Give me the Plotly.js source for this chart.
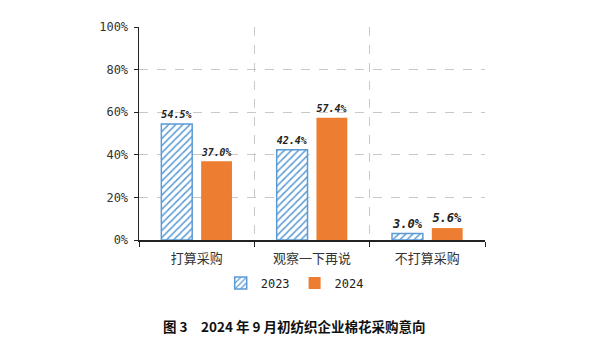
<!DOCTYPE html>
<html><head><meta charset="utf-8">
<script src="https://cdn.plot.ly/plotly-3.0.1.min.js"></script>
<style>body{margin:0;background:#fff}#c{width:596px;height:352px}</style>
</head><body><div id="c"></div>
<script>
const categories = ["打算采购", "观察一下再说", "不打算采购"];
const series2023 = [54.5, 42.4, 3.0];
const series2024 = [37.0, 57.4, 5.6];
const yTicks = [0, 20, 40, 60, 80, 100];
const yTickLabels = ["0%", "20%", "40%", "60%", "80%", "100%"];
const caption = "图 3　2024 年 9 月初纺织企业棉花采购意向";

const mono = "DejaVu Sans Mono, Liberation Mono, monospace";
const labelFont = {family: mono, size: 12, color: "#222", weight: "bold", style: "italic"};

const traces = [
  {type: "bar", name: "2023", x: categories, y: series2023,
   text: series2023.map(v => v.toFixed(1) + "%"), textposition: "outside",
   textfont: labelFont, cliponaxis: false,
   marker: {color: "#ffffff", line: {color: "#5B9BD5", width: 1.5},
            pattern: {shape: "/", fgcolor: "#5B9BD5", bgcolor: "#ffffff", size: 5, solidity: 0.3}}},
  {type: "bar", name: "2024", x: categories, y: series2024,
   text: series2024.map(v => v.toFixed(1) + "%"), textposition: "outside",
   textfont: labelFont, cliponaxis: false,
   marker: {color: "#ED7D31", line: {width: 0}}}
];

const layout = {
  width: 596, height: 352,
  margin: {l: 139, r: 111, t: 27, b: 112},
  paper_bgcolor: "#fff", plot_bgcolor: "#fff",
  barmode: "group", bargap: 0.31, bargroupgap: 0.225,
  font: {family: mono, size: 12, color: "#333"},
  xaxis: {
    tickson: "boundaries", ticks: "outside", ticklen: 5, tickcolor: "#222",
    showline: true, linecolor: "#222", linewidth: 1.5,
    showgrid: true, gridcolor: "#c8c8c8", griddash: "dash", gridwidth: 1,
    ticklabelstandoff: 6,
    tickfont: {family: "Noto Sans CJK SC", size: 13, color: "#333"}
  },
  yaxis: {
    range: [0, 100], tickvals: yTicks, ticktext: yTickLabels,
    ticks: "outside", ticklen: 4, tickcolor: "#222",
    showline: true, linecolor: "#222", linewidth: 1.5,
    showgrid: true, gridcolor: "#c8c8c8", griddash: "dash", gridwidth: 1,
    zeroline: false, ticklabelstandoff: 3,
    tickfont: {family: mono, size: 12, color: "#333"}
  },
  showlegend: true,
  legend: {orientation: "h", x: 0.45, xanchor: "center", xref: "paper",
           yref: "container", yanchor: "top", y: 0.237,
           font: {family: mono, size: 12, color: "#222"},
           itemwidth: 30, traceorder: "normal"},
  annotations: [{
    xref: "paper", yref: "paper", x: 0.45, y: -0.405, xanchor: "center", yanchor: "middle",
    showarrow: false, text: caption,
    font: {family: "Noto Sans CJK SC", size: 13.5, color: "#111", weight: "bold"}
  }]
};

Plotly.newPlot("c", traces, layout, {staticPlot: true, displayModeBar: false});
</script></body></html>
